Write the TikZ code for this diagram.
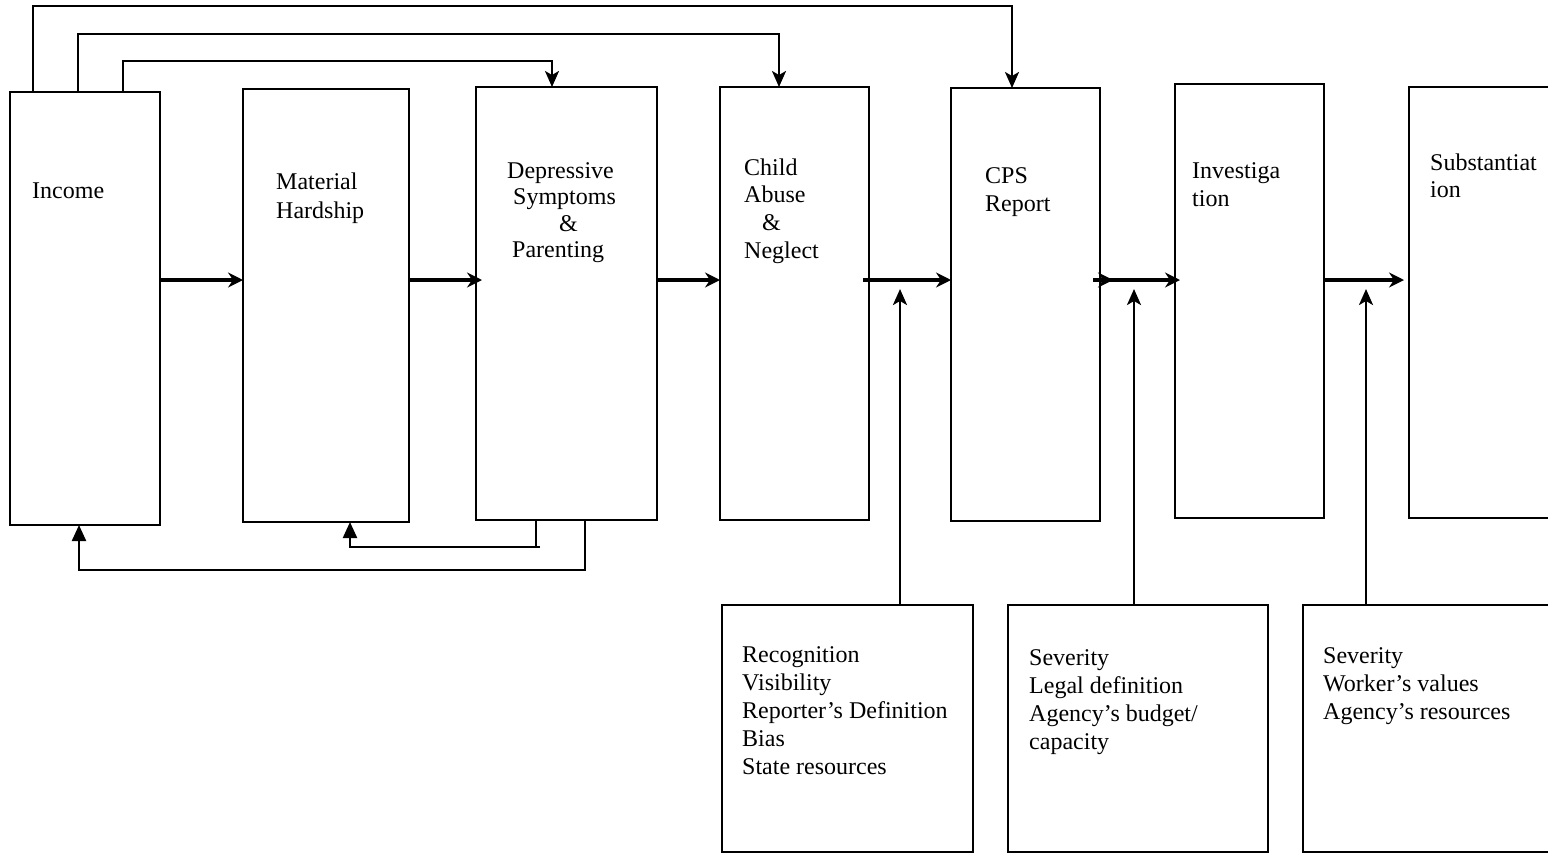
\documentclass[tikz,border=0pt]{standalone}
\usepackage{fontspec}
\setmainfont{Liberation Serif}
\usetikzlibrary{arrows.meta}
\newcommand\tlines[1]{\begin{tabular}[t]{@{}l@{}}#1\end{tabular}}
\tikzset{
  box/.style={draw, line width=2pt, rectangle, inner sep=0pt, outer sep=0pt, anchor=north west},
  txt/.style={anchor=base west, inner sep=0pt, font=\fontsize{24}{28}\selectfont},
  tarrow/.style={line width=2.2pt, -{Stealth[length=16pt,width=14pt,inset=4pt]}},
  harrow/.style={line width=3.2pt, -{Stealth[length=15pt,width=15pt,inset=5pt]}},
  varrow/.style={line width=2.6pt, -{Stealth[length=16pt,width=14pt,inset=4pt]}},
  barrow/.style={line width=2.2pt, -{Triangle[length=16pt,width=14pt]}},
  fline/.style={line width=2.2pt},
}
\begin{document}
\begin{tikzpicture}[x=1pt,y=-1pt]
\useasboundingbox (0,0) rectangle (1548,854);
\clip (0,0) rectangle (1548,854);
\fill[white] (0,0) rectangle (1548,854);
% main boxes
\node[box, minimum width=150pt, minimum height=433pt] (inc) at (10,92) {};
\node[box, minimum width=166pt, minimum height=433pt] (mat) at (243,89) {};
\node[box, minimum width=181pt, minimum height=433pt] (dep) at (476,87) {};
\node[box, minimum width=149pt, minimum height=433pt] (cab) at (720,87) {};
\node[box, minimum width=149pt, minimum height=433pt] (cps) at (951,88) {};
\node[box, minimum width=149pt, minimum height=434pt] (inv) at (1175,84) {};
\node[box, minimum width=151pt, minimum height=431pt] (sub) at (1409,87) {};
% lower boxes
\node[box, minimum width=251pt, minimum height=247pt] (b1) at (722,605) {};
\node[box, minimum width=260pt, minimum height=247pt] (b2) at (1008,605) {};
\node[box, minimum width=257pt, minimum height=247pt] (b3) at (1303,605) {};
% texts
\node[txt] (tinc) at (32,198) {Income};
\node[txt] (tmat) at (276,189) {\renewcommand\arraystretch{1.04}\tlines{Material\\Hardship}};
\node[txt] (tdep) at (507,178) {\renewcommand\arraystretch{0.95}\tlines{Depressive\\\hspace*{6pt}Symptoms\\\hspace*{52pt}\&\\\hspace*{5pt}Parenting}};
\node[txt] (tcab) at (744,175) {\renewcommand\arraystretch{0.99}\tlines{Child\\Abuse\\\hspace*{18pt}\&\\Neglect}};
\node[txt] (tcps) at (985,183) {\tlines{CPS\\Report}};
\node[txt] (tinv) at (1192,178) {\tlines{Investiga\\tion}};
\node[txt] (tsub) at (1430,170) {\renewcommand\arraystretch{0.97}\tlines{Substantiat\\ion}};
\node[txt] (tb1) at (742,662) {\tlines{Recognition\\Visibility\\Reporter’s Definition\\Bias\\State resources}};
\node[txt] (tb2) at (1029,665) {\tlines{Severity\\Legal definition\\Agency’s budget/\\capacity}};
\node[txt] (tb3) at (1323,663) {\tlines{Severity\\Worker’s values\\Agency’s resources}};
% coordinates
\coordinate (row) at (0,280);
\coordinate (s1) at (33,0);
\coordinate (s2) at (78,0);
\coordinate (s3) at (123,0);
\coordinate (c1) at (1012,6);
\coordinate (c2) at (779,34);
\coordinate (c3) at (552,61);
\coordinate (cabout) at (863,280);
\coordinate (cpsout) at (1093,280);
\coordinate (cpsmid) at (1113,280);
\coordinate (v1) at (900,289);
\coordinate (v2) at (1134,289);
\coordinate (v3) at (1366,289);
\coordinate (d1) at (536,0);
\coordinate (d2) at (585,0);
\coordinate (f1) at (350,547);
\coordinate (f2) at (79,570);
\coordinate (f1e) at (540,547);
% top connectors
\draw[tarrow] (s1 |- inc.north) |- (c1) -- (c1 |- cps.north);
\draw[tarrow] (s2 |- inc.north) |- (c2) -- (c2 |- cab.north);
\draw[tarrow] (s3 |- inc.north) |- (c3) -- (c3 |- dep.north);
% main horizontal arrows
\draw[harrow] (inc.east |- row) -- (mat.west |- row);
\draw[harrow] (mat.east |- row) -- ([xshift=6pt]dep.west |- row);
\draw[harrow] (dep.east |- row) -- (cab.west |- row);
\draw[harrow] (cabout) -- (cps.west |- row);
\draw[harrow] (cpsout) -- ([xshift=5pt]inv.west |- row);
\draw[harrow] (cpsout) -- (cpsmid);
\draw[harrow] (inv.east |- row) -- ([xshift=-5pt]sub.west |- row);
% vertical arrows from lower boxes
\draw[varrow] (v1 |- b1.north) -- (v1);
\draw[varrow] (v2 |- b2.north) -- (v2);
\draw[varrow] (v3 |- b3.north) -- (v3);
% feedback loops
\draw[fline] (d1 |- dep.south) |- (f1e);
\draw[barrow] (f1e) -- (f1) -- (f1 |- mat.south);
\draw[barrow] (d2 |- dep.south) |- (f2) -- (f2 |- inc.south);
\end{tikzpicture}
\end{document}
